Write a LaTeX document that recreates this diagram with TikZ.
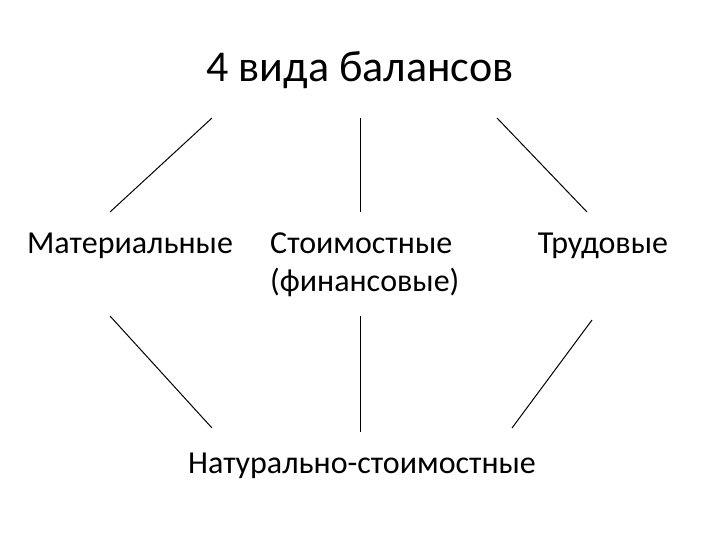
\documentclass[tikz,border=0pt]{standalone}
\usepackage{fontspec}
\setmainfont{Carlito}
\begin{document}
\begin{tikzpicture}[x=1pt,y=-1pt,
  lbl/.style={inner sep=0pt,font=\fontsize{32}{38}\selectfont},
  ttl/.style={inner sep=0pt,font=\fontsize{44}{53}\selectfont},
  ln/.style={line width=1pt,black}]
\useasboundingbox (0,0) rectangle (720,540);
\node[ttl] (title) at (360,70) {4 вида балансов};
\node[lbl] (mat) at (130,246) {Материальные};
\node[lbl,align=left,anchor=west] (fin) at (270,265) {Стоимостные\\(финансовые)};
\node[lbl] (trud) at (603,246) {Трудовые};
\node[lbl] (nat) at (362,466) {Натурально-стоимостные};
\coordinate (a1) at (212,118); \coordinate (a2) at (110,212);
\coordinate (b1) at (360,118); \coordinate (b2) at (360,212);
\coordinate (c1) at (497,118); \coordinate (c2) at (587,212);
\coordinate (d1) at (110,316); \coordinate (d2) at (212,428);
\coordinate (e1) at (360,316); \coordinate (e2) at (360,432);
\coordinate (f1) at (592,320); \coordinate (f2) at (512,428);
\draw[ln] (a1) -- (a2);
\draw[ln] (b1) -- (b2);
\draw[ln] (c1) -- (c2);
\draw[ln] (d1) -- (d2);
\draw[ln] (e1) -- (e2);
\draw[ln] (f1) -- (f2);
\end{tikzpicture}
\end{document}
